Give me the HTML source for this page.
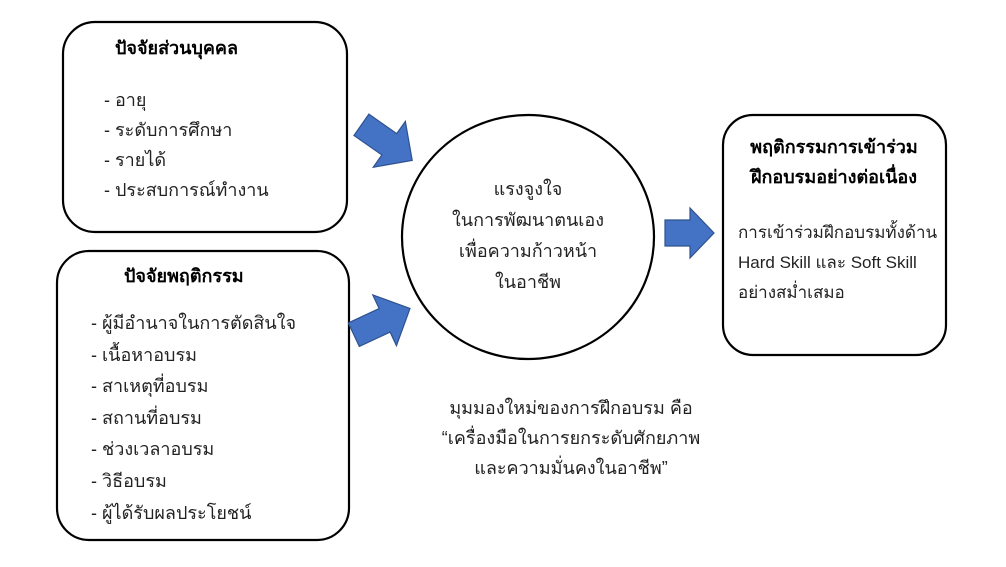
<!DOCTYPE html>
<html><head><meta charset="utf-8"><style>
html,body{margin:0;padding:0;background:#fff}
svg{display:block}
text{font-family:"Liberation Sans","DejaVu Sans",sans-serif;font-size:18px;fill:#222}
.b{font-weight:bold;fill:#000}
.s{font-size:17px}
</style></head><body>
<svg width="1006" height="567" viewBox="0 0 1006 567">
<g fill="#fff" stroke="#000" stroke-width="2.2">
<rect x="63" y="22" width="284" height="210" rx="32"/>
<rect x="57" y="251" width="292" height="289" rx="32"/>
<rect x="723" y="115" width="223" height="240" rx="30"/>
<ellipse cx="528" cy="237" rx="126" ry="122"/>
</g>
<g fill="#4472c4" stroke="#2f528f" stroke-width="1.2">
<polygon points="-30,-13 4,-13 4,-28 32,0 4,28 4,13 -30,13" transform="translate(386,142) rotate(35)"/>
<polygon points="-30,-13 4,-13 4,-28 32,0 4,28 4,13 -30,13" transform="translate(381,322) rotate(-25)"/>
<polygon points="-24,-13 1,-13 1,-25 25,0 1,25 1,13 -24,13" transform="translate(689,233)"/>
</g>
<text class="b" x="115" y="54">ปัจจัยส่วนบุคคล</text>
<text x="104" y="106">- อายุ</text>
<text x="104" y="136">- ระดับการศึกษา</text>
<text x="104" y="166">- รายได้</text>
<text x="104" y="196">- ประสบการณ์ทำงาน</text>
<text class="b" x="124" y="282">ปัจจัยพฤติกรรม</text>
<text x="91" y="329">- ผู้มีอำนาจในการตัดสินใจ</text>
<text x="91" y="361">- เนื้อหาอบรม</text>
<text x="91" y="392">- สาเหตุที่อบรม</text>
<text x="91" y="424">- สถานที่อบรม</text>
<text x="91" y="455">- ช่วงเวลาอบรม</text>
<text x="91" y="487">- วิธีอบรม</text>
<text x="91" y="519">- ผู้ได้รับผลประโยชน์</text>
<g text-anchor="middle">
<text x="528" y="195">แรงจูงใจ</text>
<text x="528" y="226">ในการพัฒนาตนเอง</text>
<text x="528" y="257">เพื่อความก้าวหน้า</text>
<text x="528" y="288">ในอาชีพ</text>
<text class="b" x="834" y="153">พฤติกรรมการเข้าร่วม</text>
<text class="b" x="834" y="183">ฝึกอบรมอย่างต่อเนื่อง</text>
<text x="571" y="414">มุมมองใหม่ของการฝึกอบรม คือ</text>
<text x="571" y="444">“เครื่องมือในการยกระดับศักยภาพ</text>
<text x="571" y="474">และความมั่นคงในอาชีพ”</text>
</g>
<text class="s" x="738" y="238">การเข้าร่วมฝึกอบรมทั้งด้าน</text>
<text class="s" x="738" y="268">Hard Skill และ Soft Skill</text>
<text class="s" x="738" y="298">อย่างสม่ำเสมอ</text>
</svg>
</body></html>
